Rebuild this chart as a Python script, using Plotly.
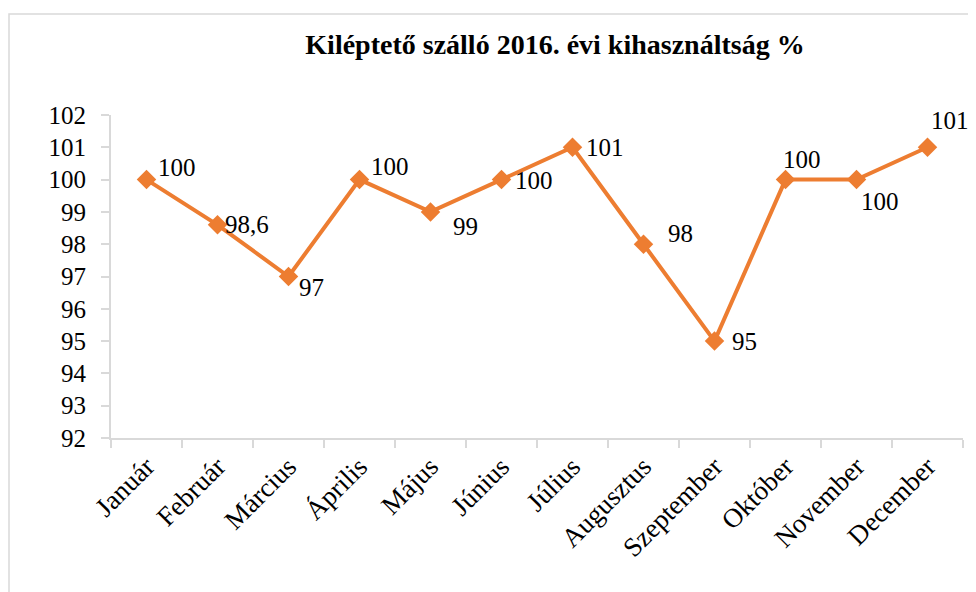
import plotly.graph_objects as go

months = ["Január", "Február", "Március", "Április", "Május", "Június",
          "Július", "Augusztus", "Szeptember", "Október", "November", "December"]
values = [100, 98.6, 97, 100, 99, 100, 101, 98, 95, 100, 100, 101]
labels = ["100", "98,6", "97", "100", "99", "100", "101", "98", "95", "100", "100", "101"]
# label offsets (px) from marker: (xshift of left edge, yshift)
label_dx = [9, 5, 8, 9, 20, 11, 11, 22, 15, -5, 2, 1]
label_dy = [12, 0, -11, 13, -15, -1, 0, 11, 0, 20, -22, 27]

ORANGE = "#ED7D31"
GRID = "#D9D9D9"
FONT = "Liberation Serif, Times New Roman, serif"

fig = go.Figure()
fig.add_trace(go.Scatter(
    x=months, y=values, mode="lines+markers",
    line=dict(color=ORANGE, width=4),
    marker=dict(symbol="diamond", size=15, color=ORANGE),
    hoverinfo="x+y", showlegend=False, cliponaxis=False,
))

for m, v, t, dx, dy in zip(months, values, labels, label_dx, label_dy):
    fig.add_annotation(x=m, y=v, text=t, showarrow=False, xanchor="left",
                       yanchor="middle", xshift=dx, yshift=dy,
                       font=dict(family=FONT, size=25, color="black"))

OFF = 8  # page body margin
W, H = 976 - OFF, 592 - OFF
L, T = 111 - OFF, 115 - OFF
pw, ph = 852, 323
R, B = W - L - pw, H - T - ph

# outer chart border
fig.add_shape(type="rect", xref="paper", yref="paper",
              x0=(9 - OFF - L) / pw, x1=(990 - OFF - L) / pw,
              y0=(T + ph - 610) / ph, y1=(T + ph - (14 - OFF)) / ph,
              line=dict(color=GRID, width=1.5), layer="below")

fig.update_layout(
    width=W, height=H,
    margin=dict(l=L, r=R, t=T, b=B, autoexpand=False),
    paper_bgcolor="white", plot_bgcolor="white",
    font=dict(family=FONT, size=25, color="black"),
    title=dict(text="<b>Kiléptető szálló 2016. évi kihasználtság %</b>",
               x=(555 - OFF) / W, xanchor="center", y=1 - (44 - OFF) / H,
               yanchor="middle",
               font=dict(family=FONT, size=28, color="black")),
)
fig.update_xaxes(range=[-0.5, len(months) - 0.5],
                 showline=True, linecolor=GRID, linewidth=2, showgrid=False,
                 ticks="outside", ticklen=8, tickcolor=GRID, tickwidth=2,
                 tickson="boundaries", tickangle=-45, zeroline=False,
                 automargin=False, tickfont=dict(family=FONT, size=27))
fig.update_yaxes(range=[92, 102], dtick=1, showline=True, linecolor=GRID,
                 linewidth=2, showgrid=False, ticks="outside", ticklen=8,
                 tickcolor=GRID, tickwidth=2, zeroline=False,
                 ticklabelstandoff=10,
                 automargin=False, tickfont=dict(family=FONT, size=25))

fig.write_html("out.html")
